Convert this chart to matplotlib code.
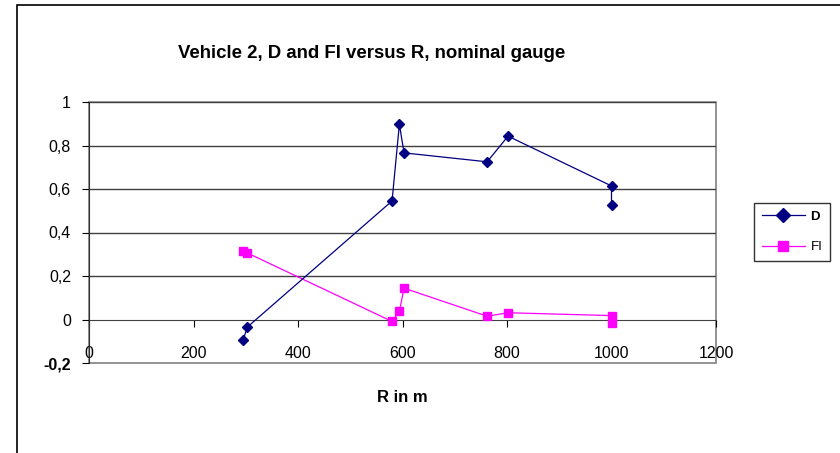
import matplotlib.pyplot as plt
from matplotlib.patches import Rectangle
from matplotlib.ticker import FuncFormatter

plt.rcParams['font.family'] = ['Liberation Sans', 'DejaVu Sans']

# radius R in m
r_vals = [295, 303, 580, 594, 603, 762, 802, 1000, 1000]
d_vals = [-0.094, -0.035, 0.545, 0.897, 0.766, 0.725, 0.843, 0.614, 0.528]
fi_vals = [0.313, 0.306, -0.009, 0.038, 0.144, 0.015, 0.031, 0.018, -0.017]

yticks = [-0.2, 0, 0.2, 0.4, 0.6, 0.8, 1]
xticks = [0, 200, 400, 600, 800, 1000, 1200]

fig = plt.figure(figsize=(8.4, 4.53), dpi=100)
# outer chart frame
fig.patches.append(Rectangle((17 / 840, -0.1), 1.2, 1 - 5 / 453 + 0.1,
                             transform=fig.transFigure, fill=False,
                             edgecolor='black', lw=1.2))

ax = fig.add_axes([89 / 840, 1 - 363 / 453, 627 / 840, 261 / 453])

ax.plot(r_vals, d_vals, color='#000080', lw=0.9, marker='D', markersize=5.5,
        label='D', zorder=4)
ax.plot(r_vals, fi_vals, color='#FF00FF', lw=0.9, marker='s', markersize=6,
        label='FI', zorder=3)

ax.set_xlim(0, 1200)
ax.set_ylim(-0.2, 1)
ax.set_xticks(xticks)
ax.set_yticks(yticks)

for y in yticks[2:]:
    ax.axhline(y, color='#404040', lw=1.0, zorder=1)

ax.spines['bottom'].set_position(('data', 0))
ax.spines['bottom'].set_color('#404040')
ax.spines['left'].set_color('#303030')
ax.spines['top'].set_visible(False)
ax.spines['right'].set_visible(False)
# plot area border
ax.add_patch(Rectangle((0, 0), 1, 1, transform=ax.transAxes, fill=False,
                       edgecolor='#808080', lw=1.2, zorder=0, clip_on=False))

ax.yaxis.set_major_formatter(FuncFormatter(lambda v, p: ('%g' % round(v, 1)).replace('.', ',')))
ax.tick_params(axis='y', direction='out', length=5, pad=8, labelsize=11.5)
ax.tick_params(axis='x', direction='out', length=5, pad=14, labelsize=11.5)
for lab in ax.get_yticklabels():
    if lab.get_text().startswith('-'):
        lab.set_fontweight('bold')

fig.text(372 / 840, 1 - 53 / 453, 'Vehicle 2, D and FI versus R, nominal gauge',
         ha='center', va='center', fontsize=13.4, fontweight='bold')
fig.text(402 / 840, 1 - 397 / 453, 'R in m', ha='center', va='center',
         fontsize=12, fontweight='bold')

leg = fig.legend(loc='center', bbox_to_anchor=(792 / 840, 1 - 232 / 453),
                 fontsize=9.5, handlelength=3.3, fancybox=False, frameon=True,
                 edgecolor='black', borderpad=0.6, labelspacing=1.4,
                 handletextpad=0.4, markerscale=1.3, borderaxespad=0)
leg.get_frame().set_linewidth(1.0)
leg.get_texts()[0].set_fontweight('bold')

fig.savefig('out.png', dpi=100)
